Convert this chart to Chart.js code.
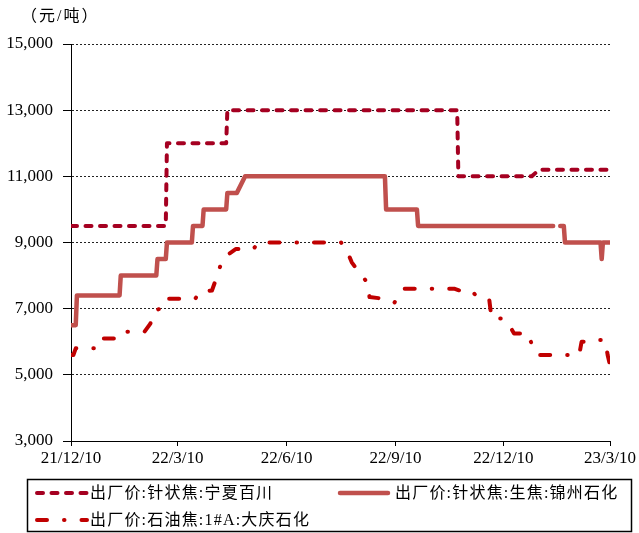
<!DOCTYPE html>
<html>
<head>
<meta charset="utf-8">
<script src="https://cdn.jsdelivr.net/npm/chart.js@4.4.0/dist/chart.umd.min.js"></script>
<style>
  html, body { margin: 0; padding: 0; background: #fff; }
  #wrap { width: 639px; height: 533px; }
</style>
</head>
<body>
<div id="wrap"><canvas id="c" width="639" height="533"></canvas></div>
<script>
// ---- data -------------------------------------------------------------
const unitLabel = '（元/吨）';

const tickDates  = ['2021-12-10', '2022-03-10', '2022-06-10', '2022-09-10', '2022-12-10', '2023-03-10'];
const tickLabels = ['21/12/10', '22/3/10', '22/6/10', '22/9/10', '22/12/10', '23/3/10'];
const yTickValues = [3000, 5000, 7000, 9000, 11000, 13000, 15000];

// 出厂价:针状焦:宁夏百川
const ningxiaName = '出厂价:针状焦:宁夏百川';
const ningxiaDates = ['2021-12-10', '2022-02-28', '2022-03-01', '2022-04-20', '2022-04-21',
  '2022-11-01', '2022-11-02', '2023-01-03', '2023-01-09', '2023-03-10'];
const ningxiaValues = [9500, 9500, 12000, 12000, 13000, 13000, 11000, 11000, 11200, 11200];

// 出厂价:针状焦:生焦:锦州石化 (null = no quote)
const jinzhouName = '出厂价:针状焦:生焦:锦州石化';
const jinzhouDates = ['2021-12-10', '2021-12-14', '2021-12-15', '2022-01-20', '2022-01-21',
  '2022-02-20', '2022-02-21', '2022-02-28', '2022-03-01', '2022-03-22', '2022-03-23',
  '2022-03-31', '2022-04-01', '2022-04-20', '2022-04-21', '2022-04-29', '2022-05-06',
  '2022-09-01', '2022-09-02', '2022-09-28', '2022-09-29', '2023-01-21', '2023-01-24',
  '2023-01-27', '2023-01-30', '2023-01-31', '2023-03-02', '2023-03-03', '2023-03-04',
  '2023-03-10'];
const jinzhouValues = [6500, 6500, 7400, 7400, 8000,
  8000, 8500, 8500, 9000, 9000, 9500,
  9500, 10000, 10000, 10500, 10500, 11000,
  11000, 10000, 10000, 9500, 9500, null,
  9500, 9500, 9000, 9000, 8500, 9000,
  9000];

// 出厂价:石油焦:1#A:大庆石化
const daqingName = '出厂价:石油焦:1#A:大庆石化';
const daqingDates = ['2021-12-10', '2021-12-12', '2021-12-14', '2022-01-02', '2022-01-05',
  '2022-01-21', '2022-01-25', '2022-02-10', '2022-02-15', '2022-02-19', '2022-02-28',
  '2022-03-02', '2022-03-25', '2022-03-28', '2022-04-08', '2022-04-12', '2022-04-16',
  '2022-04-20', '2022-04-28', '2022-05-13', '2022-05-17', '2022-07-26', '2022-07-31',
  '2022-08-04', '2022-08-10', '2022-08-17', '2022-08-19', '2022-08-31', '2022-09-09',
  '2022-09-14', '2022-09-17', '2022-10-30', '2022-11-03', '2022-11-13', '2022-11-16',
  '2022-11-26', '2022-11-28', '2022-11-30', '2022-12-10', '2022-12-15', '2022-12-19',
  '2022-12-31', '2023-01-04', '2023-01-08', '2023-02-12', '2023-02-14', '2023-02-24',
  '2023-02-27', '2023-03-06', '2023-03-08', '2023-03-10'];
const daqingValues = [5600, 5600, 5800, 5800, 6100,
  6100, 6300, 6300, 6550, 6950, 7050,
  7300, 7300, 7500, 7550, 7950, 8400,
  8600, 8800, 8800, 9000, 9000, 8750,
  8400, 8100, 7800, 7350, 7300, 7180,
  7500, 7600, 7600, 7550, 7550, 7430,
  7350, 7300, 6700, 6700, 6500, 6250,
  6250, 5800, 5600, 5600, 6000, 6000,
  6050, 6050, 5600, 5300];

// ---- helpers ----------------------------------------------------------
const startDate = tickDates[0];
function dayOf(s) {
  const [y, m, d] = s.split('-').map(Number);
  const [y0, m0, d0] = startDate.split('-').map(Number);
  return (Date.UTC(y, m - 1, d) - Date.UTC(y0, m0 - 1, d0)) / 86400000;
}
function points(dates, values) {
  return dates.map((d, i) => ({ x: dayOf(d), y: values[i] }));
}
const tickDays = tickDates.map(dayOf);

const serifFont = '"Liberation Serif", "Times New Roman", serif';
const cjkFont = '"Liberation Serif", "Noto Sans CJK SC", serif';

// ---- framed legend + unit caption ------------------------------------
const legendSlots = [
  { x: 37,  y: 493, len: 50, tx: 90 },
  { x: 340, y: 493, len: 48, tx: 395 },
  { x: 37,  y: 520, len: 50, tx: 90 }
];

const framedLegend = {
  id: 'framedLegend',
  afterDraw(chart) {
    const ctx = chart.ctx;
    ctx.save();
    ctx.strokeStyle = '#000';
    ctx.lineWidth = 1.5;
    ctx.strokeRect(27.5, 479.5, 604, 52);

    chart.data.datasets.forEach((ds, i) => {
      const s = legendSlots[i];
      ctx.save();
      ctx.strokeStyle = ds.borderColor;
      ctx.lineWidth = ds.borderWidth;
      ctx.lineCap = ds.borderCapStyle || 'butt';
      ctx.setLineDash(ds.borderDash || []);
      ctx.beginPath();
      ctx.moveTo(s.x, s.y);
      ctx.lineTo(s.x + s.len, s.y);
      ctx.stroke();
      ctx.restore();

      ctx.save();
      ctx.fillStyle = '#000';
      ctx.font = '16px ' + cjkFont;
      ctx.textBaseline = 'middle';
      ctx.textAlign = 'left';
      if ('letterSpacing' in ctx) ctx.letterSpacing = '1.2px';
      ctx.fillText(ds.label, s.tx, s.y + 1);
      ctx.restore();
    });

    ctx.fillStyle = '#000';
    ctx.font = '16px ' + cjkFont;
    ctx.textBaseline = 'middle';
    ctx.textAlign = 'left';
    if ('letterSpacing' in ctx) ctx.letterSpacing = '2px';
    ctx.fillText(unitLabel, 21, 17);
    ctx.restore();
  }
};

// ---- chart -------------------------------------------------------------
new Chart(document.getElementById('c'), {
  type: 'line',
  data: {
    datasets: [
      {
        label: ningxiaName,
        data: points(ningxiaDates, ningxiaValues),
        borderColor: '#A50021',
        borderWidth: 4,
        borderDash: [6, 8.5],
        borderCapStyle: 'round',
        borderJoinStyle: 'round',
        pointRadius: 0,
        tension: 0,
        fill: false
      },
      {
        label: jinzhouName,
        data: points(jinzhouDates, jinzhouValues),
        borderColor: '#C0504D',
        borderWidth: 4.5,
        borderCapStyle: 'round',
        borderJoinStyle: 'round',
        pointRadius: 0,
        tension: 0,
        spanGaps: false,
        fill: false
      },
      {
        label: daqingName,
        data: points(daqingDates, daqingValues),
        borderColor: '#C00000',
        borderWidth: 4,
        borderDash: [10, 17, 0.5, 17],
        borderCapStyle: 'round',
        borderJoinStyle: 'round',
        pointRadius: 0,
        tension: 0,
        fill: false
      }
    ]
  },
  options: {
    responsive: false,
    animation: false,
    devicePixelRatio: 1,
    layout: { padding: { top: 44, right: 29, bottom: 62, left: 0 } },
    plugins: {
      legend: { display: false },
      tooltip: { enabled: false },
      title: { display: false }
    },
    scales: {
      x: {
        type: 'linear',
        min: tickDays[0],
        max: tickDays[tickDays.length - 1],
        afterBuildTicks: (scale) => { scale.ticks = tickDays.map(v => ({ value: v })); },
        afterFit: (scale) => { scale.height = 30; },
        ticks: {
          autoSkip: false,
          maxRotation: 0,
          color: '#000',
          padding: 2,
          font: { family: serifFont, size: 17 },
          callback: (v) => tickLabels[tickDays.indexOf(v)]
        },
        grid: {
          drawOnChartArea: false,
          drawTicks: true,
          tickLength: 5,
          tickColor: '#000',
          color: '#000'
        },
        border: { display: true, color: '#000', width: 1 }
      },
      y: {
        min: yTickValues[0],
        max: yTickValues[yTickValues.length - 1],
        afterBuildTicks: (scale) => { scale.ticks = yTickValues.map(v => ({ value: v })); },
        afterFit: (scale) => { scale.width = 71; },
        ticks: {
          color: '#000',
          padding: 10,
          font: { family: serifFont, size: 17 },
          callback: (v) => v.toLocaleString('en-US')
        },
        grid: {
          color: '#222',
          lineWidth: 1,
          drawTicks: true,
          tickLength: 8,
          tickColor: '#000',
          tickBorderDash: []
        },
        border: { display: true, color: '#000', width: 1, dash: [2, 2] }
      }
    }
  },
  plugins: [framedLegend]
});
</script>
</body>
</html>
